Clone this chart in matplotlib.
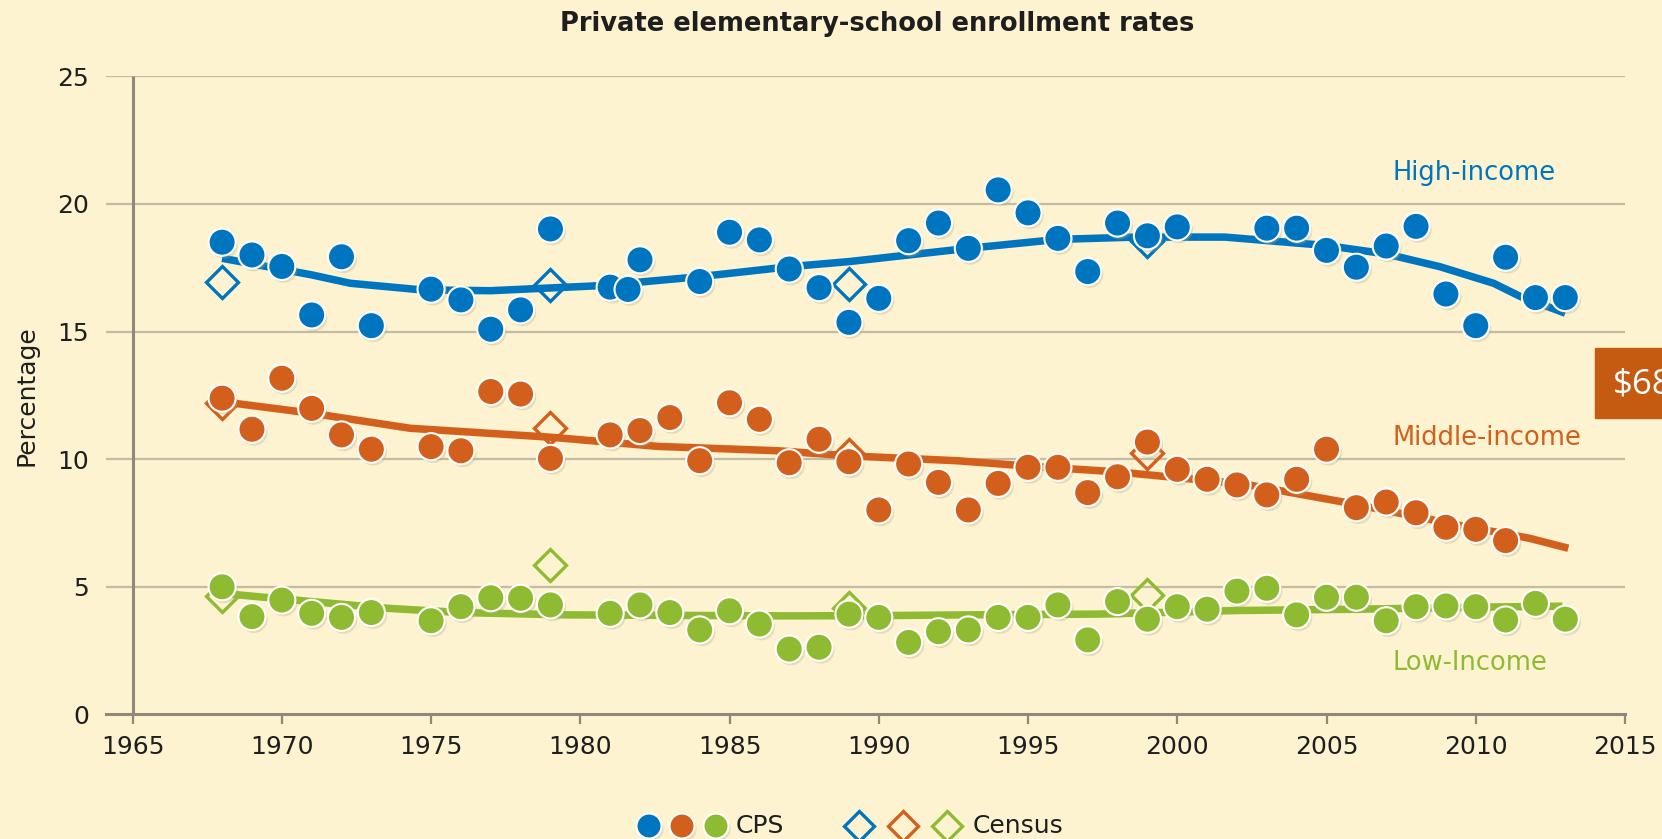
import matplotlib
matplotlib.use("Agg")
import matplotlib.pyplot as plt
import matplotlib.patheffects as pe
from matplotlib.patches import Rectangle

# ---------------- data ----------------
high_years = [1968, 1969, 1970, 1971, 1972, 1973, 1975, 1976, 1977, 1978, 1979,
              1981, 1981.6, 1982, 1984, 1985, 1986, 1987, 1988, 1989, 1990, 1991,
              1992, 1993, 1994, 1995, 1996, 1997, 1998, 1999, 2000, 2003, 2004,
              2005, 2006, 2007, 2008, 2009, 2010, 2011, 2012, 2013]
high_cps = [18.5, 18.0, 17.55, 15.65, 17.93, 15.23, 16.66, 16.24, 15.09, 15.85, 19.02,
            16.74, 16.65, 17.81, 16.96, 18.89, 18.59, 17.45, 16.72, 15.36, 16.3, 18.56,
            19.25, 18.26, 20.55, 19.65, 18.65, 17.35, 19.25, 18.75, 19.1, 19.05, 19.05,
            18.18, 17.52, 18.35, 19.12, 16.47, 15.23, 17.91, 16.33, 16.33]

mid_years = [1968, 1969, 1970, 1971, 1972, 1973, 1975, 1976, 1977, 1978, 1979] + list(range(1981, 2012))
mid_cps = [12.39, 11.17, 13.17, 11.99, 10.95, 10.39, 10.49, 10.33, 12.65, 12.55, 10.03,
           10.95, 11.12, 11.63, 9.94, 12.21, 11.56, 9.86, 10.78, 9.9, 8.01, 9.81, 9.09,
           8.01, 9.05, 9.68, 9.68, 8.69, 9.31, 10.67, 9.6, 9.21, 8.99, 8.6, 9.21, 10.39,
           8.1, 8.32, 7.9, 7.33, 7.25, 6.81]

low_years = [1968, 1969, 1970, 1971, 1972, 1973, 1975, 1976, 1977, 1978, 1979] + list(range(1981, 2014))
low_cps = [5.0, 3.83, 4.48, 3.96, 3.8, 3.99, 3.67, 4.22, 4.57, 4.55, 4.29,
           3.96, 4.29, 3.99, 3.31, 4.06, 3.54, 2.56, 2.63, 3.93, 3.8, 2.82, 3.24,
           3.31, 3.8, 3.8, 4.29, 2.92, 4.42, 3.73, 4.22, 4.12, 4.83, 4.94, 3.9, 4.59,
           4.59, 3.67, 4.22, 4.25, 4.22, 3.7, 4.35, 3.73]

census_years = [1968, 1979, 1989, 1999]
high_census = [16.96, 16.83, 16.86, 18.56]
mid_census = [12.2, 11.21, 10.16, 10.23]
low_census = [4.65, 5.85, 4.17, 4.68]

high_trend_years = [1968, 1971, 1972.3, 1974.7, 1977, 1980.7, 1984, 1987, 1989, 1993,
                    1996, 1998.6, 2001.6, 2005, 2007, 2008.8, 2010.6, 2011.5, 2013]
high_trend = [17.87, 17.22, 16.89, 16.63, 16.6, 16.8, 17.15, 17.54, 17.74, 18.26,
              18.61, 18.7, 18.7, 18.37, 18.04, 17.54, 16.89, 16.37, 15.72]
mid_trend_years = [1968, 1971, 1974.3, 1979, 1982.6, 1986.6, 1989, 1992.6, 1995, 1998,
                   2002.2, 2005.8, 2009.4, 2011.8, 2013.1]
mid_trend = [12.25, 11.8, 11.21, 10.86, 10.5, 10.33, 10.13, 9.94, 9.73, 9.5,
             9.03, 8.27, 7.42, 6.9, 6.51]
low_trend_years = [1968, 1971, 1973.5, 1976, 1979.5, 1983, 1987, 1990, 1993, 1997.4,
                   2002, 2006, 2010, 2012.9]
low_trend = [4.74, 4.42, 4.16, 3.99, 3.9, 3.88, 3.86, 3.87, 3.9, 3.93,
             4.07, 4.12, 4.2, 4.24]

x_ticks = [1965, 1970, 1975, 1980, 1985, 1990, 1995, 2000, 2005, 2010, 2015]
y_ticks = [0, 5, 10, 15, 20, 25]

# ---------------- style ----------------
BG = "#fdf3d1"
BLUE = "#0075bf"
ORANGE = "#d25f1c"
GREEN = "#8fbb33"
GRID = "#c4bca2"
AXIS = "#8e897a"
TXT = "#1e1e1e"

W, H = 1662, 839
fig = plt.figure(figsize=(W / 100, H / 100), dpi=100, facecolor=BG)

ax = fig.add_axes([106 / W, 1 - 714.4 / H, (1625 - 106) / W, (714.4 - 76.3) / H])
ax.set_facecolor(BG)
ax.set_xlim(1964.11, 2015)
ax.set_ylim(0, 25)
for s in ax.spines.values():
    s.set_visible(False)

for v in y_ticks[1:]:
    ax.axhline(v, color=GRID, lw=1.6, zorder=0.5)
ax.axhline(0, color=AXIS, lw=2.2, zorder=0.6, clip_on=False)
ax.plot([1965, 1965], [0, 25], color=AXIS, lw=2.2, zorder=0.6, solid_capstyle="butt")

ax.set_xticks(x_ticks)
ax.set_yticks(y_ticks)
ax.tick_params(axis="x", direction="out", length=7, width=1.6, color=AXIS,
               labelsize=18, labelcolor=TXT, pad=8)
ax.tick_params(axis="y", length=0, labelsize=18, labelcolor=TXT, pad=12)
ax.set_ylabel("Percentage", fontsize=18, color=TXT, labelpad=14)

shadow = [pe.SimplePatchShadow(offset=(1.5, -2), shadow_rgbFace="#b3a47a", alpha=0.3), pe.Normal()]

series = [
    (high_years, high_cps, high_census, high_trend_years, high_trend, BLUE),
    (mid_years, mid_cps, mid_census, mid_trend_years, mid_trend, ORANGE),
    (low_years, low_cps, low_census, low_trend_years, low_trend, GREEN),
]
for yrs, cps, cen, tyrs, tr, col in series:
    ax.plot(census_years, cen, ls="none", marker="D", ms=16, mfc="none", mec=col,
            mew=2.4, zorder=2, clip_on=False)
    ax.plot(tyrs, tr, color=col, lw=5.4, solid_capstyle="butt",
            solid_joinstyle="round", zorder=3)
    ax.plot(yrs, cps, ls="none", marker="o", ms=19.5, mfc=col, mec="white",
            mew=1.5, zorder=4, clip_on=False, path_effects=shadow)

ax.text(2007.2, 21.22, "High-income", color=BLUE, fontsize=18.5, va="center", ha="left")
ax.text(2007.2, 10.84, "Middle-income", color=ORANGE, fontsize=18.5, va="center", ha="left")
ax.text(2007.2, 2.03, "Low-Income", color=GREEN, fontsize=18.5, va="center", ha="left")

fig.text(877 / W, 1 - 24 / H, "Private elementary-school enrollment rates",
         ha="center", va="center", fontsize=18.5, fontweight="bold", color=TXT)

# overlay in pixel coordinates for legend and badge
ov = fig.add_axes([0, 0, 1, 1])
ov.set_xlim(0, W)
ov.set_ylim(H, 0)
ov.axis("off")
ov.patch.set_alpha(0)

leg_y = 826
for xc, col in zip([649, 682, 716], [BLUE, ORANGE, GREEN]):
    ov.plot([xc], [leg_y], ls="none", marker="o", ms=18, mfc=col, mec="white",
            mew=1.5, path_effects=shadow, clip_on=False)
ov.text(736, leg_y, "CPS", fontsize=18, color=TXT, va="center", ha="left")
for xc, col in zip([859, 903, 947], [BLUE, ORANGE, GREEN]):
    ov.plot([xc], [leg_y], ls="none", marker="D", ms=15, mfc="none", mec=col,
            mew=2.4, clip_on=False)
ov.text(973, leg_y, "Census", fontsize=18, color=TXT, va="center", ha="left")

ov.add_patch(Rectangle((1595, 348), 80, 70, color="#c55a11", zorder=5, clip_on=False))
ov.text(1613, 385, "$68", fontsize=25, color="white", va="center", ha="left", zorder=6,
        family="Open Sans")

fig.savefig("out.png", dpi=100, facecolor=BG)
